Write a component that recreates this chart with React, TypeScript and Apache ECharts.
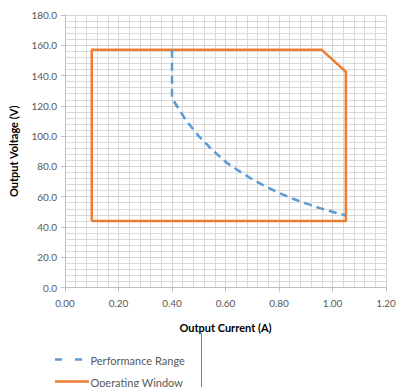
import React, { useEffect, useRef } from "react";
import * as echarts from "echarts";

const performanceRange: [number, number][] = [
  [0.4, 157], [0.4, 125], [0.45, 111], [0.5, 100], [0.55, 91], [0.6, 83],
  [0.65, 77], [0.7, 71.5], [0.75, 66.7], [0.8, 62.5], [0.85, 58.8], [0.9, 55.6],
  [0.95, 52.6], [1.0, 50], [1.05, 47.6],
];
const operatingWindow: [number, number][] = [
  [0.1, 44], [0.1, 157], [0.96, 157], [1.0, 150.5], [1.05, 142.5], [1.05, 44], [0.1, 44],
];
const seriesNames = ["Performance Range", "Operating Window"];
const xTitle = "Output Current (A)";
const yTitle = "Output Voltage (V)";

const BLUE = "#5B9BD5";
const ORANGE = "#ED7D31";

export default function App() {
  const ref = useRef<HTMLDivElement>(null);
  useEffect(() => {
    const chart = echarts.init(ref.current!, null, { renderer: "svg" });
    const font = "Lato, 'Open Sans', sans-serif";
    const legendText = { fill: "#595959", fontSize: 11, fontFamily: font };
    chart.setOption({
      animation: false,
      textStyle: { fontFamily: font },
      grid: { left: 63.3, right: 14, top: 15, bottom: 99.5, containLabel: false },
      xAxis: {
        type: "value",
        min: 0,
        max: 1.2,
        interval: 0.2,
        name: xTitle,
        nameLocation: "middle",
        nameGap: 34,
        nameTextStyle: { fontWeight: "bold", fontSize: 11, color: "#000", fontFamily: font },
        axisLine: { show: true, lineStyle: { color: "#bfbfbf", width: 1 } },
        axisTick: { show: true, length: 4, lineStyle: { color: "#bfbfbf" } },
        axisLabel: { formatter: (v: number) => v.toFixed(2), color: "#595959", fontSize: 10, margin: 10 },
        splitLine: { show: true, lineStyle: { color: "#d4d4d4", width: 1 } },
        minorTick: { show: false, splitNumber: 5 },
        minorSplitLine: { show: true, lineStyle: { color: "#d9d9d9", width: 1 } },
      },
      yAxis: {
        type: "value",
        min: 0,
        max: 180,
        interval: 20,
        name: yTitle,
        nameLocation: "middle",
        nameGap: 46,
        nameRotate: 90,
        nameTextStyle: { fontWeight: "bold", fontSize: 11, color: "#000", fontFamily: font },
        axisLine: { show: true, lineStyle: { color: "#bfbfbf", width: 1 } },
        axisTick: { show: true, length: 4, lineStyle: { color: "#bfbfbf" } },
        axisLabel: { formatter: (v: number) => v.toFixed(1), color: "#595959", fontSize: 10, margin: 8 },
        splitLine: { show: true, lineStyle: { color: "#d4d4d4", width: 1 } },
        minorTick: { show: false, splitNumber: 5 },
        minorSplitLine: { show: true, lineStyle: { color: "#d9d9d9", width: 1 } },
      },
      graphic: [
        { type: "line", shape: { x1: 201.5, y1: 333, x2: 201.5, y2: 387 }, style: { stroke: "#7f7f7f", lineWidth: 1 } },
        { type: "line", shape: { x1: 55, y1: 359.5, x2: 62, y2: 359.5 }, style: { stroke: BLUE, lineWidth: 2.5 } },
        { type: "line", shape: { x1: 75, y1: 359.5, x2: 82, y2: 359.5 }, style: { stroke: BLUE, lineWidth: 2.5 } },
        { type: "text", x: 90.5, y: 360, style: { ...legendText, text: seriesNames[0], verticalAlign: "middle" } },
        { type: "line", shape: { x1: 55, y1: 381.5, x2: 89, y2: 381.5 }, style: { stroke: ORANGE, lineWidth: 2.5 } },
        { type: "text", x: 90.5, y: 382, style: { ...legendText, text: seriesNames[1], verticalAlign: "middle" } },
      ],
      series: [
        {
          name: seriesNames[0],
          type: "line",
          data: performanceRange,
          symbol: "none",
          smooth: false,
          lineStyle: { color: BLUE, width: 2.5, type: [8, 5] },
          itemStyle: { color: BLUE },
          z: 3,
        },
        {
          name: seriesNames[1],
          type: "line",
          data: operatingWindow,
          symbol: "none",
          lineStyle: { color: ORANGE, width: 2.5 },
          itemStyle: { color: ORANGE },
          z: 2,
        },
      ],
    });
    return () => chart.dispose();
  }, []);
  return <div ref={ref} style={{ width: 400, height: 387, position: "absolute", left: 0, top: 0 }} />;
}
